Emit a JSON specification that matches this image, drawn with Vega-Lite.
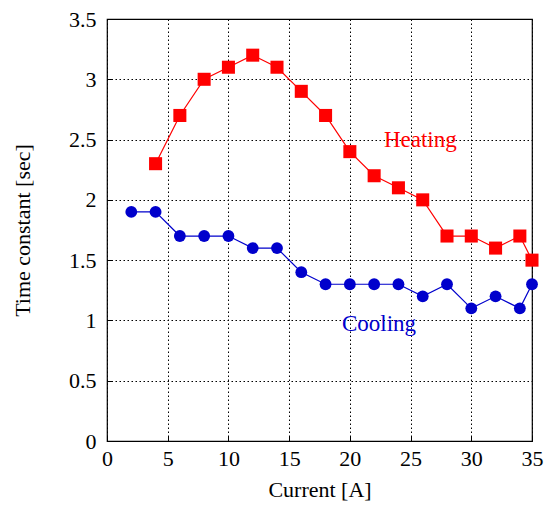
{
  "$schema": "https://vega.github.io/schema/vega-lite/v6.json",
  "width": 425,
  "height": 422,
  "autosize": {"type": "none"},
  "padding": {"left": 107, "top": 19, "right": 14, "bottom": 67},
  "background": "white",
  "config": {
    "view": {"stroke": "black", "strokeWidth": 1.2},
    "font": "Liberation Serif",
    "axis": {
      "labelColor": "black",
      "titleColor": "black",
      "titleFontWeight": "normal",
      "grid": true,
      "gridColor": "black",
      "gridDash": [1.5, 2.5],
      "gridOpacity": 1,
      "gridWidth": 1,
      "domain": false,
      "tickColor": "black",
      "tickSize": -5,
      "tickWidth": 1
    }
  },
  "datasets": {
    "series": [
      {"current": 4, "tau": 2.3, "mode": "Heating"},
      {"current": 6, "tau": 2.7, "mode": "Heating"},
      {"current": 8, "tau": 3.0, "mode": "Heating"},
      {"current": 10, "tau": 3.1, "mode": "Heating"},
      {"current": 12, "tau": 3.2, "mode": "Heating"},
      {"current": 14, "tau": 3.1, "mode": "Heating"},
      {"current": 16, "tau": 2.9, "mode": "Heating"},
      {"current": 18, "tau": 2.7, "mode": "Heating"},
      {"current": 20, "tau": 2.4, "mode": "Heating"},
      {"current": 22, "tau": 2.2, "mode": "Heating"},
      {"current": 24, "tau": 2.1, "mode": "Heating"},
      {"current": 26, "tau": 2.0, "mode": "Heating"},
      {"current": 28, "tau": 1.7, "mode": "Heating"},
      {"current": 30, "tau": 1.7, "mode": "Heating"},
      {"current": 32, "tau": 1.6, "mode": "Heating"},
      {"current": 34, "tau": 1.7, "mode": "Heating"},
      {"current": 35, "tau": 1.5, "mode": "Heating"},
      {"current": 2, "tau": 1.9, "mode": "Cooling"},
      {"current": 4, "tau": 1.9, "mode": "Cooling"},
      {"current": 6, "tau": 1.7, "mode": "Cooling"},
      {"current": 8, "tau": 1.7, "mode": "Cooling"},
      {"current": 10, "tau": 1.7, "mode": "Cooling"},
      {"current": 12, "tau": 1.6, "mode": "Cooling"},
      {"current": 14, "tau": 1.6, "mode": "Cooling"},
      {"current": 16, "tau": 1.4, "mode": "Cooling"},
      {"current": 18, "tau": 1.3, "mode": "Cooling"},
      {"current": 20, "tau": 1.3, "mode": "Cooling"},
      {"current": 22, "tau": 1.3, "mode": "Cooling"},
      {"current": 24, "tau": 1.3, "mode": "Cooling"},
      {"current": 26, "tau": 1.2, "mode": "Cooling"},
      {"current": 28, "tau": 1.3, "mode": "Cooling"},
      {"current": 30, "tau": 1.1, "mode": "Cooling"},
      {"current": 32, "tau": 1.2, "mode": "Cooling"},
      {"current": 34, "tau": 1.1, "mode": "Cooling"},
      {"current": 35, "tau": 1.3, "mode": "Cooling"}
    ],
    "labels": [
      {"current": 25.8, "tau": 2.5, "mode": "Heating"},
      {"current": 22.4, "tau": 0.97, "mode": "Cooling"}
    ]
  },
  "encoding": {
    "x": {
      "field": "current",
      "type": "quantitative",
      "scale": {"domain": [0, 35], "nice": false, "zero": false},
      "axis": {"title": "Current [A]", "values": [0, 5, 10, 15, 20, 25, 30, 35], "labelFont": "Liberation Serif", "titleFont": "Liberation Serif", "labelFontSize": 22, "titleFontSize": 22, "labelPadding": 12, "titlePadding": 10, "labelFlush": false}
    },
    "y": {
      "field": "tau",
      "type": "quantitative",
      "scale": {"domain": [0, 3.5], "nice": false},
      "axis": {"title": "Time constant [sec]", "values": [0, 0.5, 1, 1.5, 2, 2.5, 3, 3.5], "format": "~g", "labelFont": "Liberation Serif", "titleFont": "Liberation Serif", "labelFontSize": 22, "titleFontSize": 22, "labelPadding": 16, "titlePadding": 34, "labelFlush": false}
    },
    "color": {
      "field": "mode",
      "type": "nominal",
      "scale": {"domain": ["Heating", "Cooling"], "range": ["#ff0000", "#0000cc"]},
      "legend": null
    }
  },
  "layer": [
    {
      "data": {"name": "series"},
      "mark": {"type": "line", "strokeWidth": 1.2, "clip": false}
    },
    {
      "data": {"name": "series"},
      "mark": {"type": "point", "filled": true, "opacity": 1, "clip": false},
      "encoding": {
        "shape": {"field": "mode", "type": "nominal", "scale": {"domain": ["Heating", "Cooling"], "range": ["square", "circle"]}, "legend": null},
        "size": {"field": "mode", "type": "nominal", "scale": {"domain": ["Heating", "Cooling"], "range": [170, 140]}, "legend": null}
      }
    },
    {
      "data": {"name": "labels"},
      "mark": {"type": "text", "font": "Liberation Serif", "fontSize": 23, "align": "center", "baseline": "middle"},
      "encoding": {"text": {"field": "mode"}}
    }
  ]
}
